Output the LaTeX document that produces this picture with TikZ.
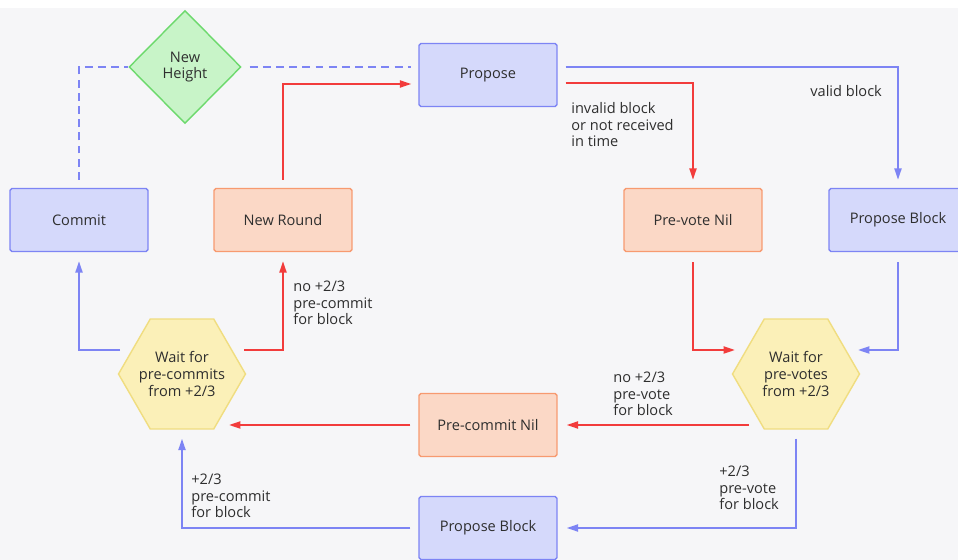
\documentclass[tikz,border=0pt]{standalone}
\usepackage{fontspec}
\setmainfont{Open Sans}
\usetikzlibrary{shapes.geometric,arrows.meta}
\definecolor{bg}{HTML}{F6F6F8}
\definecolor{bluefill}{HTML}{D5D9FB}
\definecolor{blueline}{HTML}{7D84F4}
\definecolor{orangefill}{HTML}{FBD8C6}
\definecolor{orangeline}{HTML}{F79A70}
\definecolor{greenfill}{HTML}{C8F4C8}
\definecolor{greenline}{HTML}{6CD96C}
\definecolor{yellowfill}{HTML}{FBF0B8}
\definecolor{yellowline}{HTML}{F0DD80}
\definecolor{redline}{HTML}{F23C3C}
\definecolor{txt}{HTML}{2E2E2E}

\begin{document}
\begin{tikzpicture}[x=0.02cm,y=-0.02cm,
	font=\fontsize{8.3}{9.4}\selectfont,text=txt,
	bluebox/.style={draw=blueline,fill=bluefill,line width=0.8pt,minimum width=2.76cm,minimum height=1.26cm,rounded corners=1pt},
	orangebox/.style={bluebox,draw=orangeline,fill=orangefill},
	waithex/.style={regular polygon,regular polygon sides=6,minimum size=2.54cm,inner sep=0pt,draw=yellowline,fill=yellowfill,line width=0.8pt},
	heightdia/.style={diamond,minimum width=2.24cm,minimum height=2.26cm,inner sep=0pt,draw=greenline,fill=greenfill,line width=0.8pt},
	edgelabel/.style={anchor=west,align=left,inner sep=0pt},
	bluearr/.style={draw=blueline,line width=1.1pt,-{Triangle[length=6.5pt,width=4pt]}},
	redarr/.style={bluearr,draw=redline},
	dashln/.style={draw=blueline,line width=1.1pt,dash pattern=on 4.5pt off 3pt}]
		\fill[white] (0,0) rectangle (958,560);
		\fill[bg] (0,8) rectangle (958,560);
		\useasboundingbox (0,0) rectangle (958,560);
		\clip (0,0) rectangle (958,560);

		\node[heightdia,label={[align=center]center:New\\Height}] (nh) at (185,67) {};
		\node[bluebox] (prop) at (488,75) {Propose};
		\node[bluebox] (com) at (79,220) {Commit};
		\node[orangebox] (nr) at (283,220) {New Round};
		\node[orangebox] (pvn) at (693,220) {Pre-vote Nil};
		\node[bluebox] (pb1) at (898,220) {Propose Block};
		\node[waithex,label={[align=center]center:Wait for\\pre-commits\\from +2/3}] (wpc) at (182,374) {};
		\node[waithex,label={[align=center]center:Wait for\\pre-votes\\from +2/3}] (wpv) at (796,374) {};
		\node[orangebox] (pcn) at (488,425) {Pre-commit Nil};
		\node[bluebox] (pb2) at (488,528) {Propose Block};

		\node[edgelabel] (l1) at (571,125) {invalid block\\or not received\\in time};
		\node[edgelabel] (l2) at (810,91) {valid block};
		\node[edgelabel] (l3) at (293,303) {no +2/3\\pre-commit\\for block};
		\node[edgelabel] (l4) at (613,394) {no +2/3\\pre-vote\\for block};
		\node[edgelabel] (l5) at (719,488) {+2/3\\pre-vote\\for block};
		\node[edgelabel] (l6) at (191,496) {+2/3\\pre-commit\\for block};

		\draw[dashln] ([yshift=0.16cm]com.north) |- (nh.west);
		\draw[dashln] ([xshift=0.16cm]nh.east) -- ([xshift=-0.14cm]prop.west |- nh.east);

		\begin{scope}
			\draw[redarr] ([yshift=0.16cm]nr.north) |- ([shift={(-7,9)}]prop.west);
			\draw[bluearr] ([shift={(8,-8)}]prop.east) -| ([yshift=0.16cm]pb1.north);
			\draw[redarr] ([shift={(8,8)}]prop.east) -| ([yshift=0.16cm]pvn.north);
			\draw[redarr] ([yshift=-0.2cm]pvn.south) |- ([shift={(-61,-24)}]wpv.center);
			\draw[bluearr] ([yshift=-0.2cm]pb1.south) |- ([shift={(62,-24)}]wpv.center);
			\draw[redarr] ([shift={(-47,51)}]wpv.center) -- ([xshift=0.18cm]pcn.east);
			\draw[bluearr] ([yshift=-0.18cm]wpv.south) |- ([xshift=0.18cm]pb2.east);
			\draw[redarr] ([xshift=-0.16cm]pcn.west) -- ([shift={(47,51)}]wpc.center);
			\draw[bluearr] ([xshift=-0.16cm]pb2.west) -| ([yshift=-0.18cm]wpc.south);
			\draw[bluearr] ([shift={(-62,-24)}]wpc.center) -| ([yshift=-0.18cm]com.south);
			\draw[redarr] ([shift={(62,-24)}]wpc.center) -| ([yshift=-0.18cm]nr.south);
		\end{scope}
	\end{tikzpicture}
\end{document}
